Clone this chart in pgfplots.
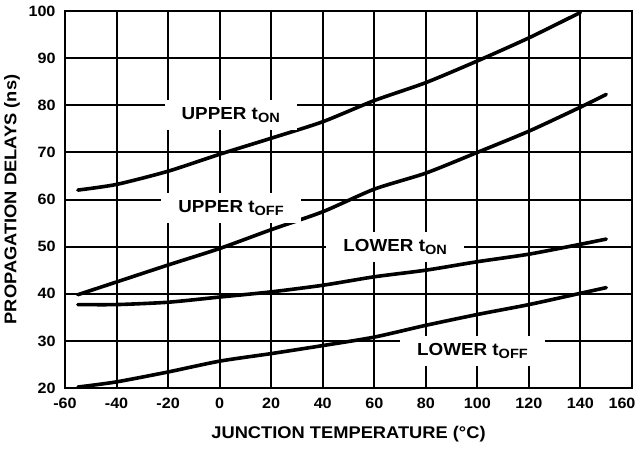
\documentclass[border=0pt]{standalone}
\usepackage{pgfplots}
\pgfplotsset{compat=1.18}
\usepackage{fontspec}
\setmainfont{Liberation Sans}[FakeStretch=1.08]

\newcommand{\sub}[1]{\raisebox{-0.35ex}{\fontsize{13.5}{14}\selectfont #1}}
\newcommand{\tl}[1]{\mbox{\fontsize{15}{15}\selectfont\bfseries #1}}
\tikzset{label node/.style={fill=white, inner xsep=17bp, inner ysep=7bp,
    font=\bfseries\fontsize{17.5}{18}\selectfont},
  curve/.style={black, line width=3.6bp, smooth, tension=0.4, line cap=round, mark=none}}

\begin{document}
\begin{tikzpicture}
\begin{axis}[
    scale only axis,
    width=567bp, height=377bp,
    xmin=-60, xmax=160,
    ymin=20, ymax=100,
    xtick={-60,-40,...,160},
    xticklabels={\tl{-60},\tl{-40},\tl{-20},\tl{0},\tl{20},\tl{40},
      \tl{60},\tl{80},\tl{100},\tl{120},\tl{140},\tl{160\hspace*{20bp}}},
    ytick={20,30,...,100},
    yticklabels={\tl{20},\tl{30},\tl{40},\tl{50},\tl{60},\tl{70},
      \tl{80},\tl{90},\tl{100}},
    major tick length=0pt,
    grid=major,
    major grid style={black, line width=2bp},
    axis line style={black, line width=2bp},
    xticklabel style={yshift=-7bp},
    yticklabel style={xshift=-6bp},
    xlabel={JUNCTION TEMPERATURE (°C)},
    ylabel={PROPAGATION DELAYS (ns)},
    label style={font=\bfseries\fontsize{17}{17}\selectfont},
    xlabel style={at={(axis description cs:0.5,-0.122)}, anchor=center},
    ylabel style={at={(axis description cs:-0.0935,0.5)}, anchor=center},
]
% upper t_ON
\addplot[curve] coordinates {(-55,62.0) (-40,63.2) (-20,66.0) (0,69.6) (20,73.0) (40,76.5)
    (60,81.0) (80,84.8) (100,89.4) (120,94.3) (140,99.7)};
% upper t_OFF
\addplot[curve] coordinates {(-55,39.8) (-40,42.5) (-20,46.1) (0,49.6) (20,53.6) (40,57.4)
    (60,62.2) (80,65.6) (100,70.0) (120,74.5) (140,79.6) (150,82.3)};
% lower t_ON
\addplot[curve] coordinates {(-55,37.7) (-40,37.7) (-20,38.2) (0,39.3) (20,40.4) (40,41.8)
    (60,43.6) (80,45.0) (100,46.8) (120,48.4) (140,50.5) (150,51.6)};
% lower t_OFF
\addplot[curve] coordinates {(-55,20.2) (-40,21.3) (-20,23.4) (0,25.7) (20,27.3) (40,29.0)
    (60,30.8) (80,33.3) (100,35.6) (120,37.7) (140,40.1) (150,41.3)};

\node[label node] at (axis cs:4.3,77.9) {UPPER t\sub{ON}};
\node[label node] at (axis cs:4.4,58.2) {UPPER t\sub{OFF}};
\node[label node] at (axis cs:68.1,49.9) {LOWER t\sub{ON}};
\node[label node] at (axis cs:98.1,27.8) {LOWER t\sub{OFF}};

\coordinate (sw) at (rel axis cs:0,0);
\end{axis}
\pgfresetboundingbox
\path (sw) ++(-65bp,-61bp) rectangle ++(636bp,449bp);
\end{tikzpicture}
\end{document}
